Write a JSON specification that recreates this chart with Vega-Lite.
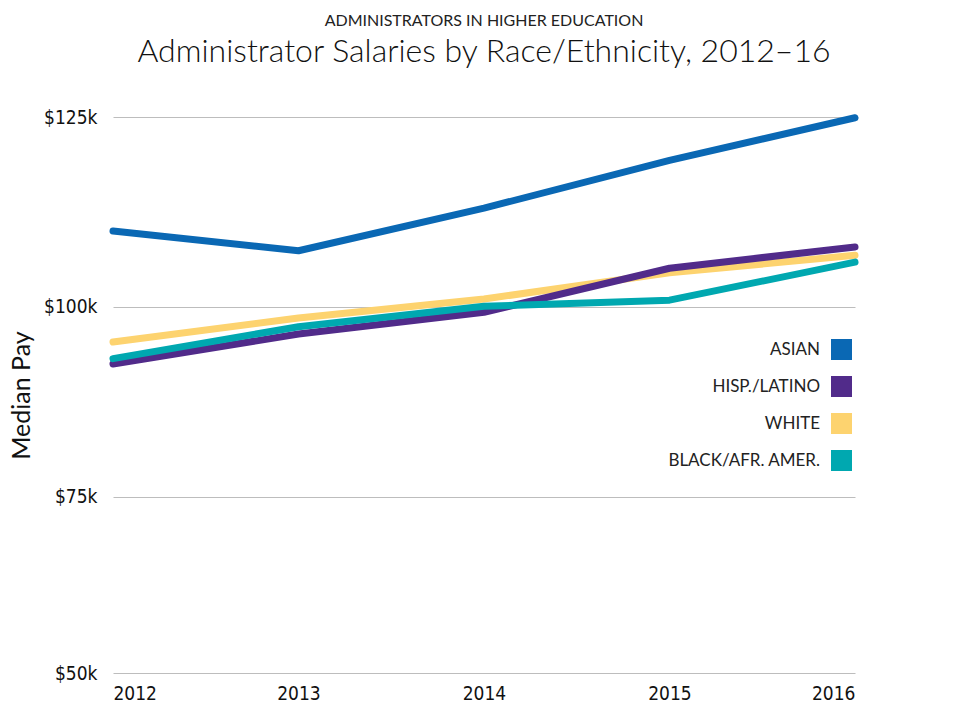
{
  "$schema": "https://vega.github.io/schema/vega-lite/v6.json",
  "autosize": {"type": "none"},
  "width": 742,
  "height": 556,
  "padding": {"left": 113, "top": 117, "right": 101, "bottom": 36},
  "background": "white",
  "title": {
    "text": "ADMINISTRATORS IN HIGHER EDUCATION",
    "subtitle": "Administrator Salaries by Race/Ethnicity, 2012–16",
    "anchor": "middle",
    "frame": "group",
    "font": "Lato",
    "fontSize": 16,
    "fontWeight": "normal",
    "color": "#222222",
    "subtitleFont": "Lato",
    "subtitleFontSize": 32,
    "subtitleFontWeight": 300,
    "subtitleColor": "#111111",
    "subtitlePadding": 8,
    "offset": 40
  },
  "data": {
    "values": [
      {"year": 2012, "group": "WHITE", "pay": 95400},
      {"year": 2013, "group": "WHITE", "pay": 98550},
      {"year": 2014, "group": "WHITE", "pay": 101050},
      {"year": 2015, "group": "WHITE", "pay": 104500},
      {"year": 2016, "group": "WHITE", "pay": 106800},
      {"year": 2012, "group": "HISP./LATINO", "pay": 92500},
      {"year": 2013, "group": "HISP./LATINO", "pay": 96450},
      {"year": 2014, "group": "HISP./LATINO", "pay": 99300},
      {"year": 2015, "group": "HISP./LATINO", "pay": 105100},
      {"year": 2016, "group": "HISP./LATINO", "pay": 107900},
      {"year": 2012, "group": "BLACK/AFR. AMER.", "pay": 93200},
      {"year": 2013, "group": "BLACK/AFR. AMER.", "pay": 97400},
      {"year": 2014, "group": "BLACK/AFR. AMER.", "pay": 100100},
      {"year": 2015, "group": "BLACK/AFR. AMER.", "pay": 100900},
      {"year": 2016, "group": "BLACK/AFR. AMER.", "pay": 105900},
      {"year": 2012, "group": "ASIAN", "pay": 110000},
      {"year": 2013, "group": "ASIAN", "pay": 107400},
      {"year": 2014, "group": "ASIAN", "pay": 113000},
      {"year": 2015, "group": "ASIAN", "pay": 119300},
      {"year": 2016, "group": "ASIAN", "pay": 124900}
    ]
  },
  "mark": {"type": "line", "strokeWidth": 7, "strokeCap": "round", "strokeJoin": "round", "clip": false},
  "encoding": {
    "x": {
      "field": "year",
      "type": "quantitative",
      "scale": {"domain": [2012, 2016], "nice": false, "zero": false},
      "axis": {
        "values": [2012, 2013, 2014, 2015, 2016],
        "format": "d",
        "title": null,
        "grid": false,
        "domain": false,
        "ticks": false,
        "labelFlush": true,
        "labelPadding": 11,
        "labelFont": "DejaVu Sans Condensed, Roboto Condensed, Liberation Sans Narrow, Roboto, sans-serif",
        "labelFontSize": 19,
        "labelColor": "#111111"
      }
    },
    "y": {
      "field": "pay",
      "type": "quantitative",
      "scale": {"domain": [51840, 125000], "nice": false, "zero": false},
      "axis": {
        "values": [51840, 75000, 100000, 125000],
        "labelExpr": "datum.value < 60000 ? '$50k' : '$' + format(datum.value / 1000, 'd') + 'k'",
        "title": "Median Pay",
        "titleFont": "Lato",
        "titleFontSize": 25,
        "titleFontWeight": "normal",
        "titleColor": "#111111",
        "titlePadding": 9,
        "grid": true,
        "gridColor": "#bdbdbd",
        "gridWidth": 1,
        "domain": false,
        "ticks": false,
        "labelPadding": 16,
        "labelFont": "DejaVu Sans Condensed, Roboto Condensed, Liberation Sans Narrow, Roboto, sans-serif",
        "labelFontSize": 19,
        "labelColor": "#111111"
      }
    },
    "color": {
      "field": "group",
      "type": "nominal",
      "scale": {
        "domain": ["ASIAN", "HISP./LATINO", "WHITE", "BLACK/AFR. AMER."],
        "range": ["#0a68b4", "#512b8a", "#fdd36f", "#00a8b0"]
      },
      "legend": {
        "title": null,
        "orient": "none",
        "legendX": 718,
        "legendY": 222,
        "symbolType": "square",
        "symbolSize": 441,
        "symbolStrokeWidth": 0,
        "symbolOpacity": 1,
        "labelAlign": "right",
        "labelOffset": -32,
        "labelFont": "Lato",
        "labelFontSize": 17,
        "labelColor": "#222222",
        "rowPadding": 16,
        "padding": 0,
        "encode": {
          "symbols": {
            "update": {
              "fill": {"scale": "color", "field": "value"},
              "fillOpacity": {"value": 1},
              "strokeWidth": {"value": 0}
            }
          }
        }
      }
    }
  },
  "config": {
    "view": {"stroke": null}
  }
}
